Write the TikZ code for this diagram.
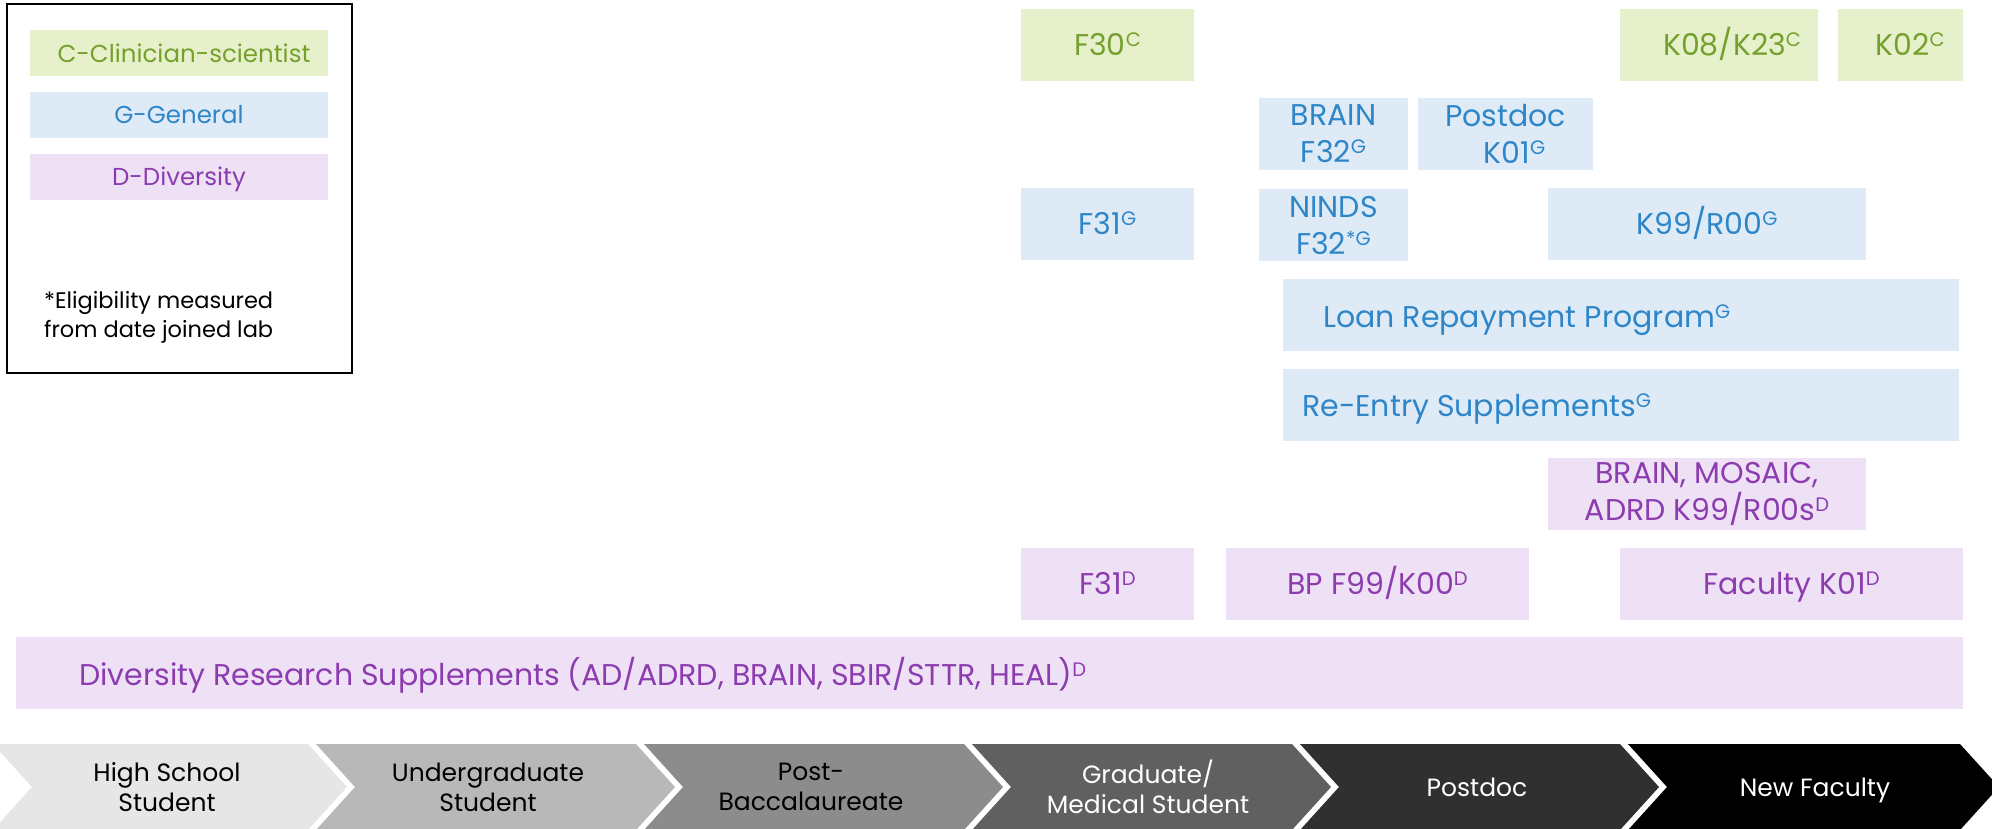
\documentclass[tikz,border=0pt]{standalone}
\usepackage{fontspec}
\setmainfont{Poppins}
\usepackage{graphicx}
\definecolor{cfill}{RGB}{230,241,204}
\definecolor{ctext}{RGB}{118,160,44}
\definecolor{gfill}{RGB}{222,235,247}
\definecolor{gtext}{RGB}{46,134,200}
\definecolor{dfill}{RGB}{238,224,245}
\definecolor{dtext}{RGB}{140,60,175}
\definecolor{chA}{RGB}{230,230,230}
\definecolor{chB}{RGB}{184,184,184}
\definecolor{chC}{RGB}{140,140,140}
\definecolor{chD}{RGB}{96,96,96}
\definecolor{chE}{RGB}{48,48,48}
\definecolor{chF}{RGB}{0,0,0}
\newcommand\sps[1]{\raisebox{0.3em}{\scalebox{0.65}{#1}}}
\newcommand\bxfont{\fontsize{30}{37}\selectfont}
\newcommand\lgfont{\fontsize{24.5}{30}\selectfont}
\newcommand\chfont{\fontsize{25}{30}\selectfont}
\newcommand\ntfont{\fontsize{22.5}{27}\selectfont}
\begin{document}
\begin{tikzpicture}[x=1pt,y=-1pt,
  box/.style={inner sep=0pt, font=\bxfont, align=center, minimum height=72pt},
  cbox/.style={box, fill=cfill, text=ctext},
  gbox/.style={box, fill=gfill, text=gtext},
  dbox/.style={box, fill=dfill, text=dtext},
  oneline/.style={text height=21pt, text depth=0pt},
  lgbox/.style={inner sep=0pt, font=\lgfont, minimum width=298pt, minimum height=46pt, text height=18pt, text depth=0pt},
  chtext/.style={inner sep=0pt, font=\chfont, align=center},
  chone/.style={chtext, text height=19pt, text depth=0pt},
  notetext/.style={inner sep=0pt, font=\ntfont, anchor=base west, text=black},
  frame/.style={draw=black, line width=2.7pt, inner sep=0pt}
]
\path[use as bounding box] (0,0) rectangle (1992,828);
\clip (0,0) rectangle (1992,828);

% legend
\node[frame, minimum width=345pt, minimum height=369pt] (legend) at (179.5,188.5) {};
\node[lgbox, fill=cfill, text=ctext] (legc) at (179,53) {\hspace*{10pt}C-Clinician-scientist};
\node[lgbox, fill=gfill, text=gtext] (legg) at (179,114.5) {G-General};
\node[lgbox, fill=dfill, text=dtext] (legd) at (179,176.5) {D-Diversity};
\node[notetext] (note1) at (44,308) {*Eligibility measured};
\node[notetext] (note2) at (44,337) {from date joined lab};

% clinician-scientist
\node[cbox, oneline, minimum width=173pt] (f30) at (1107.5,45) {F30\sps{C}};
\node[cbox, oneline, minimum width=198pt] (k08) at (1719,45) {\hspace*{26pt}K08/K23\sps{C}};
\node[cbox, oneline, minimum width=125pt] (k02) at (1900.5,45) {\hspace*{19pt}K02\sps{C}};

% general
\node[gbox, minimum width=149pt] (brainf32) at (1333.5,134) {BRAIN\\F32\sps{G}};
\node[gbox, minimum width=175pt] (postk01) at (1505.5,134) {Postdoc\\\hspace*{18pt}K01\sps{G}};
\node[gbox, oneline, minimum width=173pt] (f31g) at (1107.5,224) {F31\sps{G}};
\node[gbox, minimum width=149pt] (nindsf32) at (1333.5,225) {NINDS\\F32\sps{*G}};
\node[gbox, oneline, minimum width=318pt] (k99g) at (1707,224) {K99/R00\sps{G}};
\node[gbox, minimum width=676pt] (loan) at (1621,315) {};
\node[gbox, notetext, font=\bxfont, text=gtext, fill=none, minimum height=0pt] (loantext) at (1323,327) {Loan Repayment Program\sps{G}};
\node[gbox, minimum width=676pt] (reentry) at (1621,405) {};
\node[gbox, notetext, font=\bxfont, text=gtext, fill=none, minimum height=0pt] (reentrytext) at (1302,416) {Re-Entry Supplements\sps{G}};

% diversity
\node[dbox, minimum width=318pt] (k99d) at (1707,494) {BRAIN, MOSAIC,\\ADRD K99/R00s\sps{D}};
\node[dbox, oneline, minimum width=173pt] (f31d) at (1107.5,584) {F31\sps{D}};
\node[dbox, oneline, minimum width=303pt] (bpf99) at (1377.5,584) {BP F99/K00\sps{D}};
\node[dbox, oneline, minimum width=343pt] (fack01) at (1791.5,584) {Faculty K01\sps{D}};
\node[dbox, minimum width=1947pt] (divsup) at (989.5,673) {};
\node[dbox, notetext, font=\bxfont, text=dtext, fill=none, minimum height=0pt] (divsuptext) at (79,685) {Diversity Research Supplements (AD/ADRD, BRAIN, SBIR/STTR, HEAL)\sps{D}};

% career stage chevrons
\fill[chA] (-7,744) -- (308,744) -- (347,787) -- (308,830) -- (-7,830) -- (32,787) -- cycle;
\fill[chB] (316,744) -- (636,744) -- (675,787) -- (636,830) -- (316,830) -- (355,787) -- cycle;
\fill[chC] (644,744) -- (964,744) -- (1003,787) -- (964,830) -- (644,830) -- (683,787) -- cycle;
\fill[chD] (972,744) -- (1292,744) -- (1331,787) -- (1292,830) -- (972,830) -- (1011,787) -- cycle;
\fill[chE] (1300,744) -- (1620,744) -- (1659,787) -- (1620,830) -- (1300,830) -- (1339,787) -- cycle;
\fill[chF] (1628,744) -- (1960,744) -- (1999,787) -- (1960,830) -- (1628,830) -- (1667,787) -- cycle;

\node[chtext, text=black] (hs) at (167,787) {High School\\Student};
\node[chtext, text=black] (ug) at (488,787) {Undergraduate\\Student};
\node[chtext, text=black] (pb) at (811,787) {Post-\\Baccalaureate};
\node[chtext, text=white] (gm) at (1148,787) {Graduate/\\Medical Student};
\node[chone, text=white] (pd) at (1477,787) {Postdoc};
\node[chone, text=white] (nf) at (1815,787) {New Faculty};
\end{tikzpicture}
\end{document}
